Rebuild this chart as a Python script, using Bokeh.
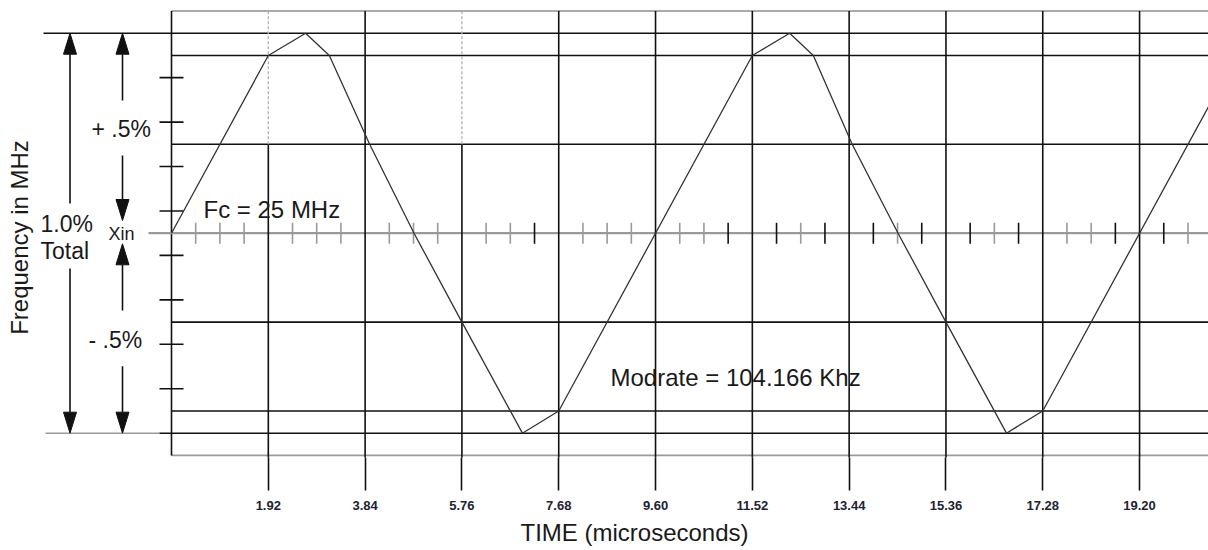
import numpy as np
from bokeh.plotting import figure
from bokeh.models import Range1d, FixedTicker, Title
from bokeh.core.properties import value
from bokeh.embed import file_html
from bokeh.resources import INLINE

# ---------------- data ----------------
# modulation profile: time (microseconds) vs frequency deviation in grid divisions (9 div = 0.5 %)
time_us = [0.00, 1.92, 2.66, 3.13, 3.93, 4.81, 5.76, 6.96, 7.68,
           11.52, 12.26, 12.73, 13.50, 14.41, 15.36, 16.56, 17.28, 21.12]
freq_div = [0, 8, 9, 8, 4, 0, -4, -9, -8,
            8, 9, 8, 4, 0, -4, -9, -8, 8]

tick_times = [1.92, 3.84, 5.76, 7.68, 9.60, 11.52, 13.44, 15.36, 17.28, 19.20]
tick_labels = ["1.92", "3.84", "5.76", "7.68", "9.60", "11.52", "13.44", "15.36", "17.28", "19.20"]
dotted_top_times = [1.92, 5.76]          # verticals drawn dotted above the +4 line
h_levels_inner = [8, 4, -4, -8]          # horizontal grid lines inside the box
limit_levels = [9, -9]                   # +0.5 % / -0.5 % limits
box_levels = [10, -10]
y_tick_levels = [7, 5, 3, 1, -1, -3, -5, -7]
minor_step_us = 0.48
minor_count = 43
dark_minor = [15, 23, 25, 27, 29, 31, 33, 35, 39, 41]

# ---------------- layout ----------------
W, H = 1208, 550
FRAME_H = 457
PX_X = 50.42       # px per microsecond
PX_Y = 22.22       # px per division
ORIGIN_X = 171.0   # canvas px of t = 0
CENTER_Y = 232.7   # canvas px of 0 deviation


def tx(px):  # canvas px -> data x
    return (px - ORIGIN_X) / PX_X


def ty(py):  # canvas px -> data y
    return (CENTER_Y - py) / PX_Y


x_start = tx(0)
x_end = x_start + W / PX_X
y_end = ty(0)
y_start = y_end - FRAME_H / PX_Y
XR = x_end + 1

p = figure(width=W, height=H, x_range=Range1d(x_start, x_end), y_range=Range1d(y_start, y_end),
           output_backend="svg", toolbar_location=None, y_axis_location=None,
           min_border_left=0, min_border_right=0, min_border_top=0, min_border_bottom=H - FRAME_H)
p.xgrid.visible = False
p.ygrid.visible = False
p.outline_line_color = None
p.background_fill_color = "white"
p.border_fill_color = "white"

BLACK = "#111111"
GREY = "#9a9a9a"
LW = 1.6

# box borders
p.segment(x0=[0], y0=[box_levels[0]], x1=[XR], y1=[box_levels[0]], line_color="#555555", line_width=1.2)
p.segment(x0=[0], y0=[box_levels[1]], x1=[XR], y1=[box_levels[1]], line_color=GREY, line_width=1.6)
p.segment(x0=[0], y0=[box_levels[1]], x1=[0], y1=[box_levels[0]], line_color=BLACK, line_width=LW)

# inner horizontal grid
p.segment(x0=[0] * len(h_levels_inner), y0=h_levels_inner, x1=[XR] * len(h_levels_inner), y1=h_levels_inner,
          line_color=BLACK, line_width=LW)
# limit lines
p.segment(x0=[tx(43)], y0=[limit_levels[0]], x1=[XR], y1=[limit_levels[0]], line_color=BLACK, line_width=LW)
p.segment(x0=[tx(45)], y0=[limit_levels[1]], x1=[tx(159)], y1=[limit_levels[1]], line_color=GREY, line_width=LW)
p.segment(x0=[tx(159)], y0=[limit_levels[1]], x1=[XR], y1=[limit_levels[1]], line_color=BLACK, line_width=LW)
# centre line
p.segment(x0=[tx(148)], y0=[0], x1=[XR], y1=[0], line_color=GREY, line_width=2.2)

# vertical grid lines (extend below the box down to the axis ticks)
solid_tops = [4 if t in dotted_top_times else box_levels[0] for t in tick_times]
p.segment(x0=tick_times, y0=[y_start - 1] * len(tick_times), x1=tick_times, y1=solid_tops,
          line_color=BLACK, line_width=LW)
p.segment(x0=dotted_top_times, y0=[4] * len(dotted_top_times), x1=dotted_top_times,
          y1=[box_levels[0]] * len(dotted_top_times), line_color="#b0b0b0", line_width=1.3, line_dash="3 2")

# left ticks on the box edge
hw = 12 / PX_X
p.segment(x0=[-hw] * len(y_tick_levels), y0=y_tick_levels, x1=[hw] * len(y_tick_levels), y1=y_tick_levels,
          line_color=BLACK, line_width=LW)

# small ticks along the centre line
mk = [k for k in range(1, minor_count + 1) if k % 4 != 0]
mt = [k * minor_step_us for k in mk]
mc = [BLACK if k in dark_minor else GREY for k in mk]
p.segment(x0=mt, y0=[-0.47] * len(mt), x1=mt, y1=[0.47] * len(mt), line_color=mc, line_width=LW)

# waveform
p.line(time_us, freq_div, line_color="#333333", line_width=1.3)

# dimension arrows
HL = 21 / PX_Y
HW = 6.5 / PX_X
ax1 = tx(69.5)
ax2 = tx(122)
shafts = [
    (ax1, 9 - HL, ty(203)), (ax1, ty(268), -9 + HL),
    (ax2, 9 - HL, ty(100)), (ax2, ty(155), ty(220) + HL),
    (ax2, ty(243.3) - HL, ty(310)), (ax2, ty(365.7), -9 + HL),
]
p.segment(x0=[s[0] for s in shafts], y0=[s[1] for s in shafts], x1=[s[0] for s in shafts],
          y1=[s[2] for s in shafts], line_color=BLACK, line_width=LW)
heads = [(ax1, 9, 1), (ax1, -9, -1), (ax2, 9, 1), (ax2, ty(220), -1), (ax2, ty(243.3), 1), (ax2, -9, -1)]
p.patches(xs=[[hx, hx - HW, hx + HW] for hx, hy, d in heads],
          ys=[[hy, hy - d * HL, hy - d * HL] for hx, hy, d in heads],
          fill_color=BLACK, line_color=BLACK, line_width=1)

FONT = value("Liberation Sans")
TC = "#1a1a1a"


def txt(x, y, s, size="24px", align="left", angle=0.0):
    p.text(x=[x], y=[y], text=[s], text_font=FONT, text_font_size=size, text_color=TC,
           text_align=align, text_baseline="middle", angle=angle)


txt(tx(18.5), ty(237), "Frequency in MHz", align="center", angle=np.pi / 2)
txt(tx(40), ty(223), "1.0%", size="23px")
txt(tx(40), ty(250), "Total", size="23px")
txt(tx(91), ty(128), "+ .5%", size="23px")
txt(tx(88), ty(339), "- .5%", size="23px")
txt(tx(108), ty(233), "Xin", size="18px")
txt(tx(203), ty(209), "Fc = 25 MHz")
txt(tx(610), ty(377), "Modrate = 104.166 Khz")

# x axis
ax = p.xaxis[0]
ax.ticker = FixedTicker(ticks=tick_times)
ax.major_label_overrides = {t: lab for t, lab in zip(tick_times, tick_labels)}
ax.axis_line_color = None
ax.major_tick_in = 0
ax.major_tick_out = 33
ax.major_tick_line_width = LW
ax.major_tick_line_color = BLACK
ax.minor_tick_line_color = None
ax.major_label_text_font = "Liberation Sans"
ax.major_label_text_font_size = "13px"
ax.major_label_text_font_style = "bold"
ax.major_label_text_color = "#222233"
ax.major_label_standoff = 10

# axis title in the panel below the axis, starting at canvas x = 520
p.add_layout(Title(text="TIME (microseconds)", align="left", offset=520, standoff=9,
                   text_font="Liberation Sans", text_font_size="24px", text_font_style="normal",
                   text_color=TC), "below")

open("out.html", "w").write(file_html(p, INLINE))
